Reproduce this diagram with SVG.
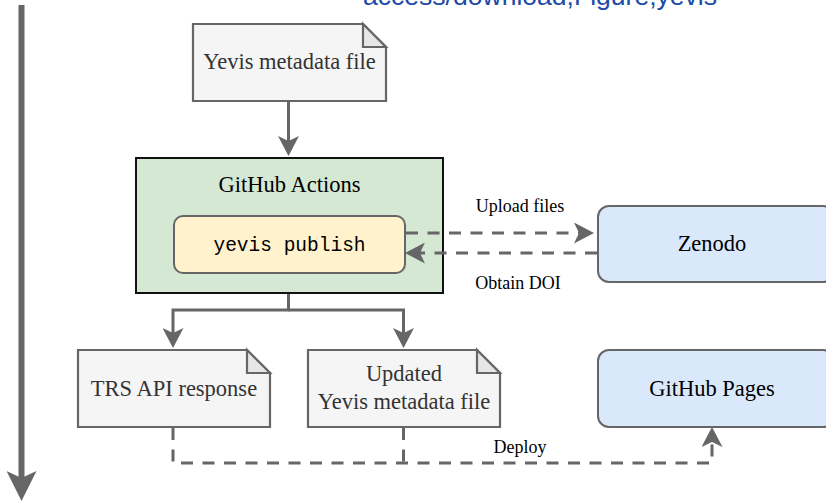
<svg xmlns="http://www.w3.org/2000/svg" width="826" height="502" viewBox="0 0 826 502">
<style>
.serif{font-family:"Liberation Serif","Times New Roman",serif;}
.note{fill:#f5f5f5;stroke:#666666;stroke-width:2.2;}
.fold{fill:#e6e6e6;stroke:#666666;stroke-width:2.2;stroke-linejoin:miter;}
.ntext{font-size:22.5px;fill:#333333;text-anchor:middle;}
.btext{font-size:22.5px;fill:#000000;text-anchor:middle;}
.lbl{font-size:18px;fill:#000000;text-anchor:middle;}
.edge{fill:none;stroke:#666666;stroke-width:3;}
.dash{fill:none;stroke:#666666;stroke-width:3;stroke-dasharray:12 9.5;}
</style>
<defs>
<marker id="arr" markerUnits="userSpaceOnUse" viewBox="0 0 20 21" refX="5" refY="10.5" markerWidth="20" markerHeight="21" orient="auto">
<path d="M0,0 L20,10.5 L0,21 L5,10.5 Z" fill="#666666"/>
</marker>
<marker id="big" markerUnits="userSpaceOnUse" viewBox="0 0 30 30" refX="7" refY="15" markerWidth="30" markerHeight="30" orient="auto">
<path d="M0,0 L30,15 L0,30 L7,15 Z" fill="#666666"/>
</marker>
</defs>

<text x="363" y="5" font-family="'Liberation Sans',Arial,sans-serif" font-size="26.5" fill="#1d4aa8" textLength="354" lengthAdjust="spacingAndGlyphs">access/download,Figure,yevis</text>

<g id="yevis-metadata">
<path class="note" d="M193,24 L363,24 L386,47 L386,101 L193,101 Z"/>
<path class="fold" d="M363,24 L363,47 L386,47 Z"/>
<text class="serif ntext" x="289.5" y="69">Yevis metadata file</text>
</g>

<g id="github-actions">
<rect x="136" y="158" width="307" height="135" fill="#d5e8d4" stroke="#111111" stroke-width="2"/>
<text class="serif btext" x="289.5" y="192">GitHub Actions</text>
</g>

<g id="yevis-publish">
<rect x="174" y="216" width="231" height="57" rx="9" fill="#fff2cc" stroke="#666666" stroke-width="2"/>
<text x="289.5" y="251" font-family="'Liberation Mono','Courier New',monospace" font-size="19.5" fill="#000000" text-anchor="middle">yevis publish</text>
</g>

<g id="zenodo">
<rect x="598" y="206" width="236" height="76" rx="11" fill="#dae8fc" stroke="#666666" stroke-width="2"/>
<text class="serif btext" x="712" y="251">Zenodo</text>
</g>

<g id="trs-api-response">
<path class="note" d="M78,350 L247,350 L270,373 L270,427 L78,427 Z"/>
<path class="fold" d="M247,350 L247,373 L270,373 Z"/>
<text class="serif ntext" x="174" y="396">TRS API response</text>
</g>

<g id="updated-metadata">
<path class="note" d="M308,350 L477,350 L500,373 L500,427 L308,427 Z"/>
<path class="fold" d="M477,350 L477,373 L500,373 Z"/>
<text class="serif ntext" x="404" y="381">Updated</text>
<text class="serif ntext" x="404" y="409">Yevis metadata file</text>
</g>

<g id="github-pages">
<rect x="598" y="350" width="236" height="77" rx="11" fill="#dae8fc" stroke="#666666" stroke-width="2"/>
<text class="serif btext" x="712" y="396">GitHub Pages</text>
</g>

<g id="edges">
<path class="edge" d="M21.5,5 L21.5,478" style="stroke-width:6" marker-end="url(#big)"/>
<path class="edge" d="M288.5,102 L288.5,141" marker-end="url(#arr)"/>
<path class="edge" d="M288.5,294 L288.5,310 L173,310 L173,333" marker-end="url(#arr)"/>
<path class="edge" d="M288.5,310 L403.5,310 L403.5,333" marker-end="url(#arr)"/>
<path class="dash" d="M406,233 L579,233" marker-end="url(#arr)"/>
<path class="dash" d="M597,253 L420,253" marker-end="url(#arr)"/>
<path class="dash" d="M173,428 L173,463 L712,463 L712,442" marker-end="url(#arr)"/>
<path class="dash" d="M403.5,428 L403.5,463"/>
<text class="serif lbl" x="520" y="212">Upload files</text>
<text class="serif lbl" x="518" y="289">Obtain DOI</text>
<text class="serif lbl" x="520" y="453">Deploy</text>
</g>
</svg>
